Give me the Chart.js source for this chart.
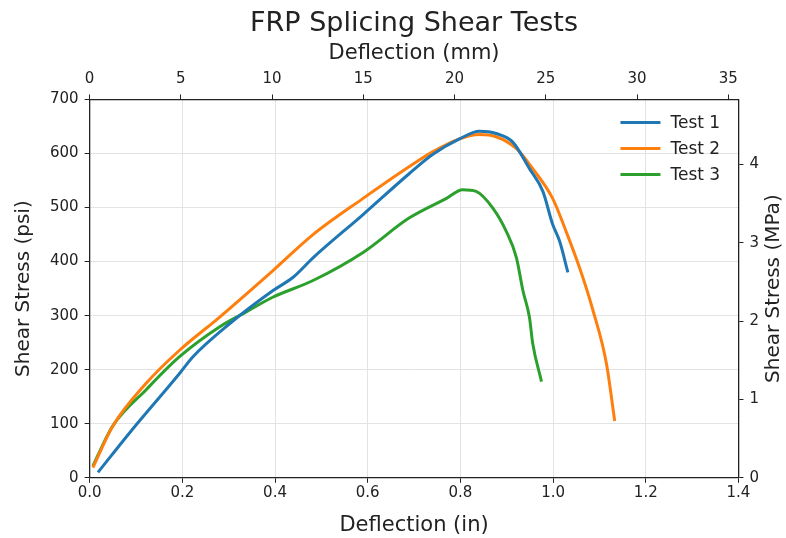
<!DOCTYPE html>
<html>
<head>
<meta charset="utf-8">
<script src="https://cdn.jsdelivr.net/npm/chart.js@4/dist/chart.umd.min.js"></script>
<style>
  html, body { margin: 0; padding: 0; background: #fff; }
  #wrap { width: 786px; height: 538px; }
</style>
</head>
<body>
<div id="wrap"><canvas id="c" width="786" height="538"></canvas></div>
<script>
// deflection (in) and shear stress (psi)
const test1In  = [0.018, 0.086, 0.194, 0.223, 0.302, 0.395, 0.439, 0.482, 0.590, 0.690, 0.740, 0.798, 0.841, 0.877, 0.913, 0.949, 0.978, 0.999, 1.014, 1.032];
const test1Psi = [10, 83, 193, 224, 285, 346, 371, 407, 487, 563, 598, 627, 641, 637, 621, 572, 530, 469, 438, 380];
const test2In  = [0.007, 0.050, 0.122, 0.194, 0.280, 0.395, 0.482, 0.590, 0.690, 0.740, 0.798, 0.841, 0.877, 0.921, 0.956, 0.999, 1.028, 1.057, 1.086, 1.115, 1.133];
const test2Psi = [19, 96, 175, 236, 297, 383, 450, 517, 576, 603, 627, 635, 631, 609, 572, 517, 456, 389, 310, 212, 105];
const test3In  = [0.007, 0.050, 0.122, 0.194, 0.280, 0.338, 0.395, 0.482, 0.590, 0.690, 0.770, 0.805, 0.834, 0.870, 0.899, 0.921, 0.935, 0.949, 0.956, 0.975];
const test3Psi = [22, 96, 163, 224, 279, 307, 334, 365, 417, 481, 517, 533, 530, 499, 456, 407, 346, 297, 249, 178];

const seriesNames = ['Test 1', 'Test 2', 'Test 3'];
const colors = ['#1f77b4', '#ff7f0e', '#2ca02c'];
const chartTitle = 'FRP Splicing Shear Tests';
const IN_TO_MM = 25.4;
const PSI_TO_MPA = 0.00689476;
const xMax = 1.4, yMax = 700;

const toPts = (xs, ys) => xs.map((x, i) => ({ x: x, y: ys[i] }));
const allSeries = [toPts(test1In, test1Psi), toPts(test2In, test2Psi), toPts(test3In, test3Psi)];

const font = 'DejaVu Sans';
const ink = '#222';
Chart.defaults.font.family = font;
Chart.defaults.color = ink;

// matplotlib-like legend inside the axes, upper right
const innerLegend = {
  id: 'innerLegend',
  afterDatasetsDraw(chart) {
    const { ctx, chartArea } = chart;
    ctx.save();
    ctx.font = '17px ' + font;
    ctx.textBaseline = 'middle';
    chart.data.datasets.forEach((ds, i) => {
      const y = chartArea.top + 23 + i * 26;
      const x0 = chartArea.right - 118;
      ctx.strokeStyle = ds.borderColor;
      ctx.lineWidth = 3;
      ctx.beginPath();
      ctx.moveTo(x0, y);
      ctx.lineTo(x0 + 40, y);
      ctx.stroke();
      ctx.fillStyle = ink;
      ctx.fillText(ds.label, x0 + 50, y + 1);
    });
    ctx.restore();
  }
};

// title centred over the axes (not the canvas) and right axis title reading upwards
const extraText = {
  id: 'extraText',
  afterDraw(chart) {
    const { ctx, chartArea } = chart;
    const tb = chart.titleBlock;
    ctx.save();
    ctx.fillStyle = ink;
    ctx.textAlign = 'center';
    ctx.textBaseline = 'middle';
    ctx.font = '27px ' + font;
    ctx.fillText(chartTitle, (chartArea.left + chartArea.right) / 2, (tb.top + tb.bottom) / 2 + 3);
    ctx.font = '20px ' + font;
    ctx.translate(chart.width - 12, (chartArea.top + chartArea.bottom) / 2);
    ctx.rotate(-Math.PI / 2);
    ctx.fillText('Shear Stress (MPa)', 0, 0);
    ctx.restore();
  }
};

const tickStyle = { color: ink, font: { size: 15 } };
const axisBorder = { color: ink, width: 1.3 };

new Chart(document.getElementById('c'), {
  type: 'line',
  data: {
    datasets: allSeries.map((pts, i) => ({
      label: seriesNames[i],
      data: pts,
      borderColor: colors[i],
      backgroundColor: colors[i],
      borderWidth: 3,
      pointRadius: 0,
      cubicInterpolationMode: 'monotone',
      xAxisID: 'x',
      yAxisID: 'y'
    }))
  },
  options: {
    responsive: false,
    animation: false,
    layout: { padding: { left: 12, right: 21, top: 0, bottom: 0 } },
    plugins: {
      legend: { display: false },
      tooltip: { enabled: false },
      title: {
        // reserves the space; the visible title is drawn by extraText
        display: true,
        text: chartTitle,
        color: 'rgba(0,0,0,0)',
        font: { size: 27, weight: 'normal' },
        padding: { top: 10, bottom: 0 }
      }
    },
    scales: {
      x: {
        type: 'linear', position: 'bottom', min: 0, max: xMax,
        ticks: Object.assign({ stepSize: 0.2, padding: 1, callback: v => v.toFixed(1) }, tickStyle),
        grid: { color: '#e3e3e3', tickColor: ink, tickLength: 5 },
        border: axisBorder,
        title: { display: true, text: 'Deflection (in)', color: ink, font: { size: 21 }, padding: { top: 10, bottom: 0 } }
      },
      x2: {
        type: 'linear', position: 'top', min: 0, max: xMax * IN_TO_MM,
        ticks: Object.assign({ stepSize: 5, padding: 6, includeBounds: false }, tickStyle),
        grid: { drawOnChartArea: false, tickColor: ink, tickLength: 5 },
        border: axisBorder,
        title: { display: true, text: 'Deflection (mm)', color: ink, font: { size: 21, lineHeight: 1.05 }, padding: { top: 0, bottom: 0 } }
      },
      y: {
        type: 'linear', position: 'left', min: 0, max: yMax,
        ticks: Object.assign({ stepSize: 100, padding: 6 }, tickStyle),
        grid: { color: '#e3e3e3', tickColor: ink, tickLength: 5 },
        border: axisBorder,
        title: { display: true, text: 'Shear Stress (psi)', color: ink, font: { size: 20 }, padding: { top: 0, bottom: 8 } }
      },
      y2: {
        type: 'linear', position: 'right', min: 0, max: yMax * PSI_TO_MPA,
        ticks: Object.assign({ stepSize: 1, padding: 6, includeBounds: false }, tickStyle),
        grid: { drawOnChartArea: false, tickColor: ink, tickLength: 5 },
        border: axisBorder
      }
    }
  },
  plugins: [innerLegend, extraText]
});
</script>
</body>
</html>
